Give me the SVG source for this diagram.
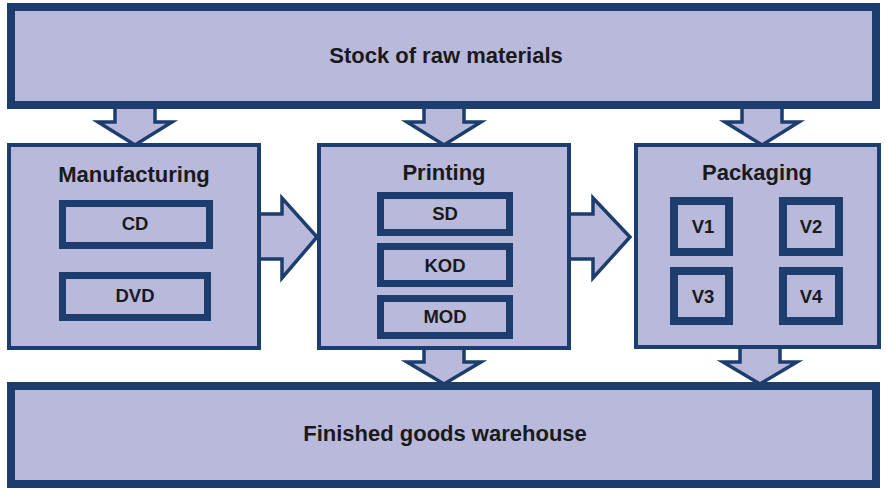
<svg xmlns="http://www.w3.org/2000/svg" width="886" height="489" viewBox="0 0 886 489">
  <style>
    .box { fill: #b9b9dc; stroke: #1c3d6e; }
    .store { stroke-width: 8; }
    .stage { stroke-width: 4; }
    .item { stroke-width: 7; }
    .pack { stroke-width: 8; }
    .arrow { fill: #b9b9dc; stroke: #1c3d6e; stroke-width: 3.5; stroke-linejoin: miter; }
    text { font-family: "Liberation Sans", Arial, sans-serif; font-weight: bold; fill: #1a1a1a; text-anchor: middle; }
    .big { font-size: 22px; }
    .small { font-size: 18.5px; }
  </style>
  <rect width="886" height="489" fill="#ffffff"/>

  <!-- flow arrows (drawn first so box borders cover their roots) -->
  <g id="connectors">
    <polygon class="arrow" points="115,100 155,100 155,122 172,122 135,145 98,122 115,122"/>
    <polygon class="arrow" points="424,100 464,100 464,122 481,122 444,145 407,122 424,122"/>
    <polygon class="arrow" points="742,100 782,100 782,122 799,122 762,145 725,122 742,122"/>
    <polygon class="arrow" points="424,346 464,346 464,362 481,362 444,384 407,362 424,362"/>
    <polygon class="arrow" points="740,345 780,345 780,362 797,362 760,384 723,362 740,362"/>
    <polygon class="arrow" points="256,214 282,214 282,198 317,237 282,278 282,259 256,259"/>
    <polygon class="arrow" points="566,214 593,214 593,198 630,237 593,278 593,259 566,259"/>
  </g>

  <g id="raw-stock">
    <rect class="box store" x="11" y="7" width="865" height="98"/>
    <text class="big" x="446" y="63">Stock of raw materials</text>
  </g>

  <g id="manufacturing">
    <rect class="box stage" x="9" y="145" width="250" height="203"/>
    <text class="big" x="134" y="182">Manufacturing</text>
  </g>
  <g id="cd">
    <rect class="box item" x="62.5" y="203.5" width="147" height="42"/>
    <text class="small" x="135" y="230">CD</text>
  </g>
  <g id="dvd">
    <rect class="box item" x="62.5" y="275.5" width="145" height="42"/>
    <text class="small" x="135" y="302">DVD</text>
  </g>

  <g id="printing">
    <rect class="box stage" x="319" y="145" width="250" height="203"/>
    <text class="big" x="444" y="180">Printing</text>
  </g>
  <g id="sd">
    <rect class="box item" x="380.5" y="195.5" width="129" height="37"/>
    <text class="small" x="445" y="220">SD</text>
  </g>
  <g id="kod">
    <rect class="box item" x="380.5" y="246.5" width="129" height="37"/>
    <text class="small" x="445" y="272">KOD</text>
  </g>
  <g id="mod">
    <rect class="box item" x="380.5" y="298.5" width="129" height="37"/>
    <text class="small" x="445" y="323">MOD</text>
  </g>

  <g id="packaging">
    <rect class="box stage" x="636" y="145" width="243" height="202"/>
    <text class="big" x="757" y="180">Packaging</text>
  </g>
  <g id="v1">
    <rect class="box pack" x="674" y="201" width="55" height="51"/>
    <text class="small" x="703" y="233">V1</text>
  </g>
  <g id="v2">
    <rect class="box pack" x="783" y="201" width="56" height="51"/>
    <text class="small" x="811" y="233">V2</text>
  </g>
  <g id="v3">
    <rect class="box pack" x="674" y="271" width="55" height="50"/>
    <text class="small" x="703" y="303">V3</text>
  </g>
  <g id="v4">
    <rect class="box pack" x="783" y="271" width="56" height="50"/>
    <text class="small" x="811" y="303">V4</text>
  </g>

  <g id="finished-goods">
    <rect class="box store" x="11" y="386" width="865" height="98"/>
    <text class="big" x="445" y="441">Finished goods warehouse</text>
  </g>
</svg>
